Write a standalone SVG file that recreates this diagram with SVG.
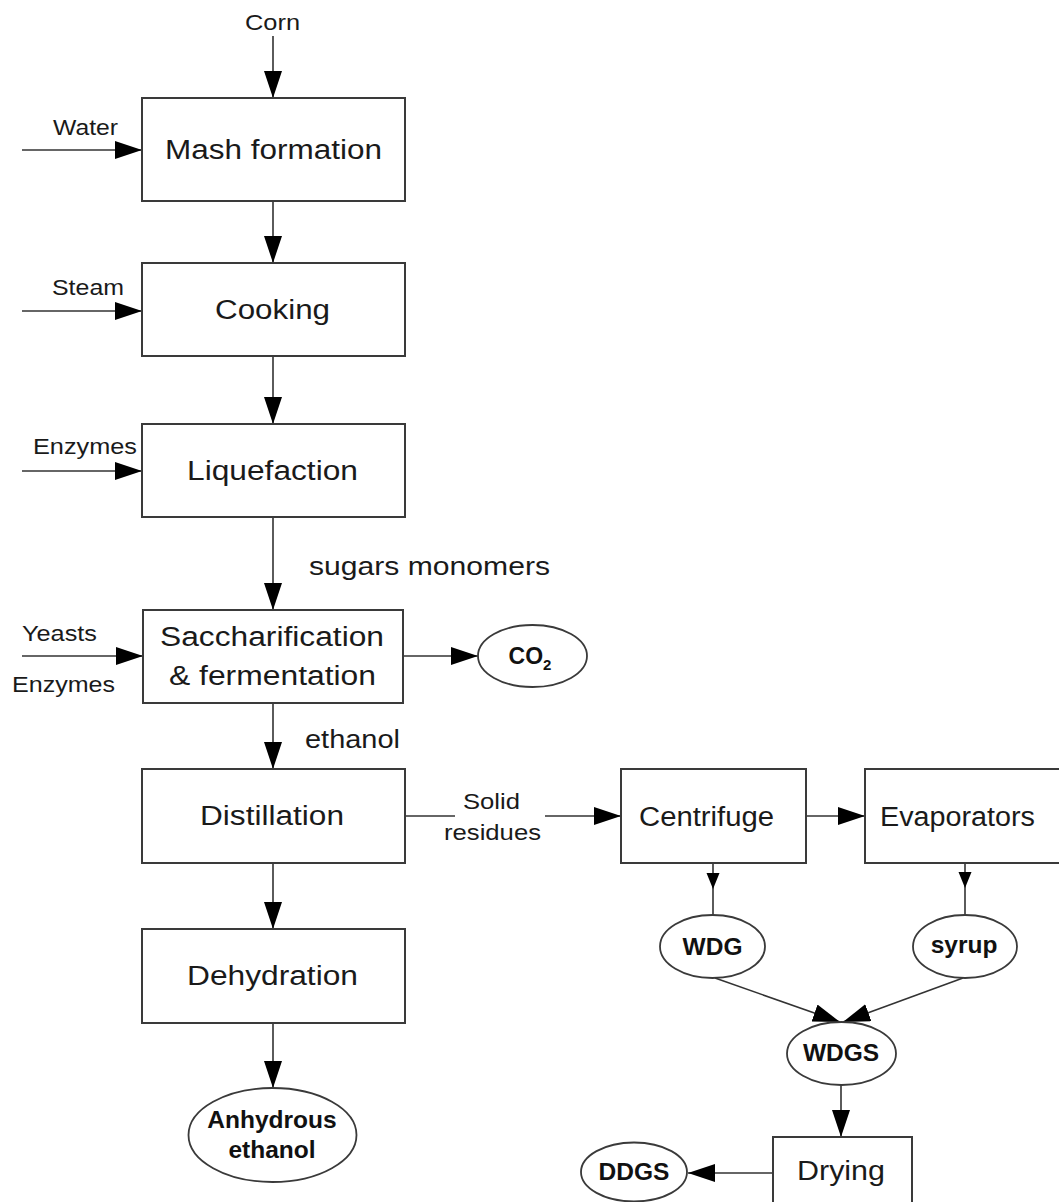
<svg xmlns="http://www.w3.org/2000/svg" width="1059" height="1202" viewBox="0 0 1059 1202">
<style>
  .box { fill: #fff; stroke: #3a3a3a; stroke-width: 2; }
  .ell { fill: #fff; stroke: #3a3a3a; stroke-width: 1.8; }
  .ln { fill: none; stroke: #333; stroke-width: 1.6; }
  .big { font-family: "Liberation Sans", Arial, sans-serif; font-size: 27px; fill: #1a1a1a; }
  .mid { font-family: "Liberation Sans", Arial, sans-serif; font-size: 25px; fill: #1a1a1a; }
  .sm { font-family: "Liberation Sans", Arial, sans-serif; font-size: 22px; fill: #1a1a1a; }
  .bold { font-family: "Liberation Sans", Arial, sans-serif; font-size: 24.5px; font-weight: bold; fill: #111; text-anchor: middle; }
</style>
<defs>
  <marker id="ah" markerUnits="userSpaceOnUse" markerWidth="28" markerHeight="19" refX="27" refY="9" orient="auto">
    <path d="M0,0 L27,9 L0,18 z" fill="#000"/>
  </marker>
  <marker id="ahs" markerUnits="userSpaceOnUse" markerWidth="17" markerHeight="14" refX="16" refY="6.5" orient="auto">
    <path d="M0,0 L16,6.5 L0,13 z" fill="#000"/>
  </marker>
</defs>
<rect width="1059" height="1202" fill="#fff"/>

<g id="connectors">
  <line class="ln" x1="273" y1="36" x2="273" y2="98" marker-end="url(#ah)"/>
  <line class="ln" x1="22" y1="150" x2="142" y2="150" marker-end="url(#ah)"/>
  <line class="ln" x1="273" y1="201" x2="273" y2="263" marker-end="url(#ah)"/>
  <line class="ln" x1="22" y1="311" x2="142" y2="311" marker-end="url(#ah)"/>
  <line class="ln" x1="273" y1="356" x2="273" y2="424" marker-end="url(#ah)"/>
  <line class="ln" x1="22" y1="471" x2="142" y2="471" marker-end="url(#ah)"/>
  <line class="ln" x1="273" y1="517" x2="273" y2="610" marker-end="url(#ah)"/>
  <line class="ln" x1="22" y1="656" x2="143" y2="656" marker-end="url(#ah)"/>
  <line class="ln" x1="403" y1="656" x2="478" y2="656" marker-end="url(#ah)"/>
  <line class="ln" x1="273" y1="703" x2="273" y2="769" marker-end="url(#ah)"/>
  <line class="ln" x1="273" y1="863" x2="273" y2="929" marker-end="url(#ah)"/>
  <line class="ln" x1="273" y1="1023" x2="273" y2="1088" marker-end="url(#ah)"/>
  <line class="ln" x1="405" y1="816" x2="455" y2="816"/>
  <line class="ln" x1="545" y1="816" x2="621" y2="816" marker-end="url(#ah)"/>
  <line class="ln" x1="806" y1="816" x2="865" y2="816" marker-end="url(#ah)"/>
  <path class="ln" d="M713,863 L713,889 L713,915" marker-mid="url(#ahs)"/>
  <path class="ln" d="M965,863 L965,888 L965,915" marker-mid="url(#ahs)"/>
  <line class="ln" x1="715" y1="978" x2="840" y2="1022" marker-end="url(#ah)"/>
  <line class="ln" x1="963" y1="978" x2="843" y2="1022" marker-end="url(#ah)"/>
  <line class="ln" x1="841" y1="1085" x2="841" y2="1137" marker-end="url(#ah)"/>
  <line class="ln" x1="773" y1="1173" x2="688" y2="1173" marker-end="url(#ah)"/>
</g>

<g id="labels">
  <text class="sm" x="245" y="30" textLength="55" lengthAdjust="spacingAndGlyphs">Corn</text>
  <text class="sm" x="53" y="135" textLength="65" lengthAdjust="spacingAndGlyphs">Water</text>
  <text class="sm" x="52" y="295" textLength="72" lengthAdjust="spacingAndGlyphs">Steam</text>
  <text class="sm" x="33" y="454" textLength="104" lengthAdjust="spacingAndGlyphs">Enzymes</text>
  <text class="sm" x="22" y="641" textLength="75" lengthAdjust="spacingAndGlyphs">Yeasts</text>
  <text class="sm" x="12" y="692" textLength="103" lengthAdjust="spacingAndGlyphs">Enzymes</text>
  <text class="mid" x="309" y="575" textLength="241" lengthAdjust="spacingAndGlyphs">sugars monomers</text>
  <text class="mid" x="305" y="748" textLength="95" lengthAdjust="spacingAndGlyphs">ethanol</text>
  <text class="sm" x="463" y="809" textLength="57" lengthAdjust="spacingAndGlyphs">Solid</text>
  <text class="sm" x="444" y="840" textLength="97" lengthAdjust="spacingAndGlyphs">residues</text>
</g>

<g id="mash">
  <rect class="box" x="142" y="98" width="263" height="103"/>
  <text class="big" x="165" y="159" textLength="217" lengthAdjust="spacingAndGlyphs">Mash formation</text>
</g>
<g id="cooking">
  <rect class="box" x="142" y="263" width="263" height="93"/>
  <text class="big" x="215" y="319" textLength="115" lengthAdjust="spacingAndGlyphs">Cooking</text>
</g>
<g id="liquefaction">
  <rect class="box" x="142" y="424" width="263" height="93"/>
  <text class="big" x="187" y="480" textLength="171" lengthAdjust="spacingAndGlyphs">Liquefaction</text>
</g>
<g id="saccharification">
  <rect class="box" x="143" y="610" width="260" height="93"/>
  <text class="big" x="160" y="646" textLength="224" lengthAdjust="spacingAndGlyphs">Saccharification</text>
  <text class="big" x="169" y="685" textLength="207" lengthAdjust="spacingAndGlyphs">&amp; fermentation</text>
</g>
<g id="co2">
  <ellipse class="ell" cx="532.5" cy="656" rx="54.5" ry="31"/>
  <text class="bold" x="530" y="664" style="font-size:23px">CO<tspan style="font-size:15px" dy="6">2</tspan></text>
</g>
<g id="distillation">
  <rect class="box" x="142" y="769" width="263" height="94"/>
  <text class="big" x="200" y="825" textLength="144" lengthAdjust="spacingAndGlyphs">Distillation</text>
</g>
<g id="dehydration">
  <rect class="box" x="142" y="929" width="263" height="94"/>
  <text class="big" x="187" y="985" textLength="171" lengthAdjust="spacingAndGlyphs">Dehydration</text>
</g>
<g id="anhydrous">
  <ellipse class="ell" cx="272.5" cy="1135" rx="84" ry="47"/>
  <text class="bold" x="272" y="1128">Anhydrous</text>
  <text class="bold" x="272" y="1158">ethanol</text>
</g>
<g id="centrifuge">
  <rect class="box" x="621" y="769" width="185" height="94"/>
  <text class="big" x="639" y="826" textLength="135" lengthAdjust="spacingAndGlyphs">Centrifuge</text>
</g>
<g id="evaporators">
  <rect class="box" x="865" y="769" width="200" height="94"/>
  <text class="big" x="880" y="826" textLength="155" lengthAdjust="spacingAndGlyphs">Evaporators</text>
</g>
<g id="wdg">
  <ellipse class="ell" cx="712.5" cy="946.5" rx="52.5" ry="31.5"/>
  <text class="bold" x="712.5" y="955">WDG</text>
</g>
<g id="syrup">
  <ellipse class="ell" cx="965" cy="946.5" rx="52" ry="31.5"/>
  <text class="bold" x="964" y="953">syrup</text>
</g>
<g id="wdgs">
  <ellipse class="ell" cx="841.5" cy="1053.5" rx="54.5" ry="31.5"/>
  <text class="bold" x="841" y="1061">WDGS</text>
</g>
<g id="drying">
  <rect class="box" x="773" y="1137" width="139" height="80"/>
  <text class="big" x="797" y="1180" textLength="88" lengthAdjust="spacingAndGlyphs">Drying</text>
</g>
<g id="ddgs">
  <ellipse class="ell" cx="634" cy="1172" rx="53" ry="29.5"/>
  <text class="bold" x="634" y="1180">DDGS</text>
</g>
</svg>
